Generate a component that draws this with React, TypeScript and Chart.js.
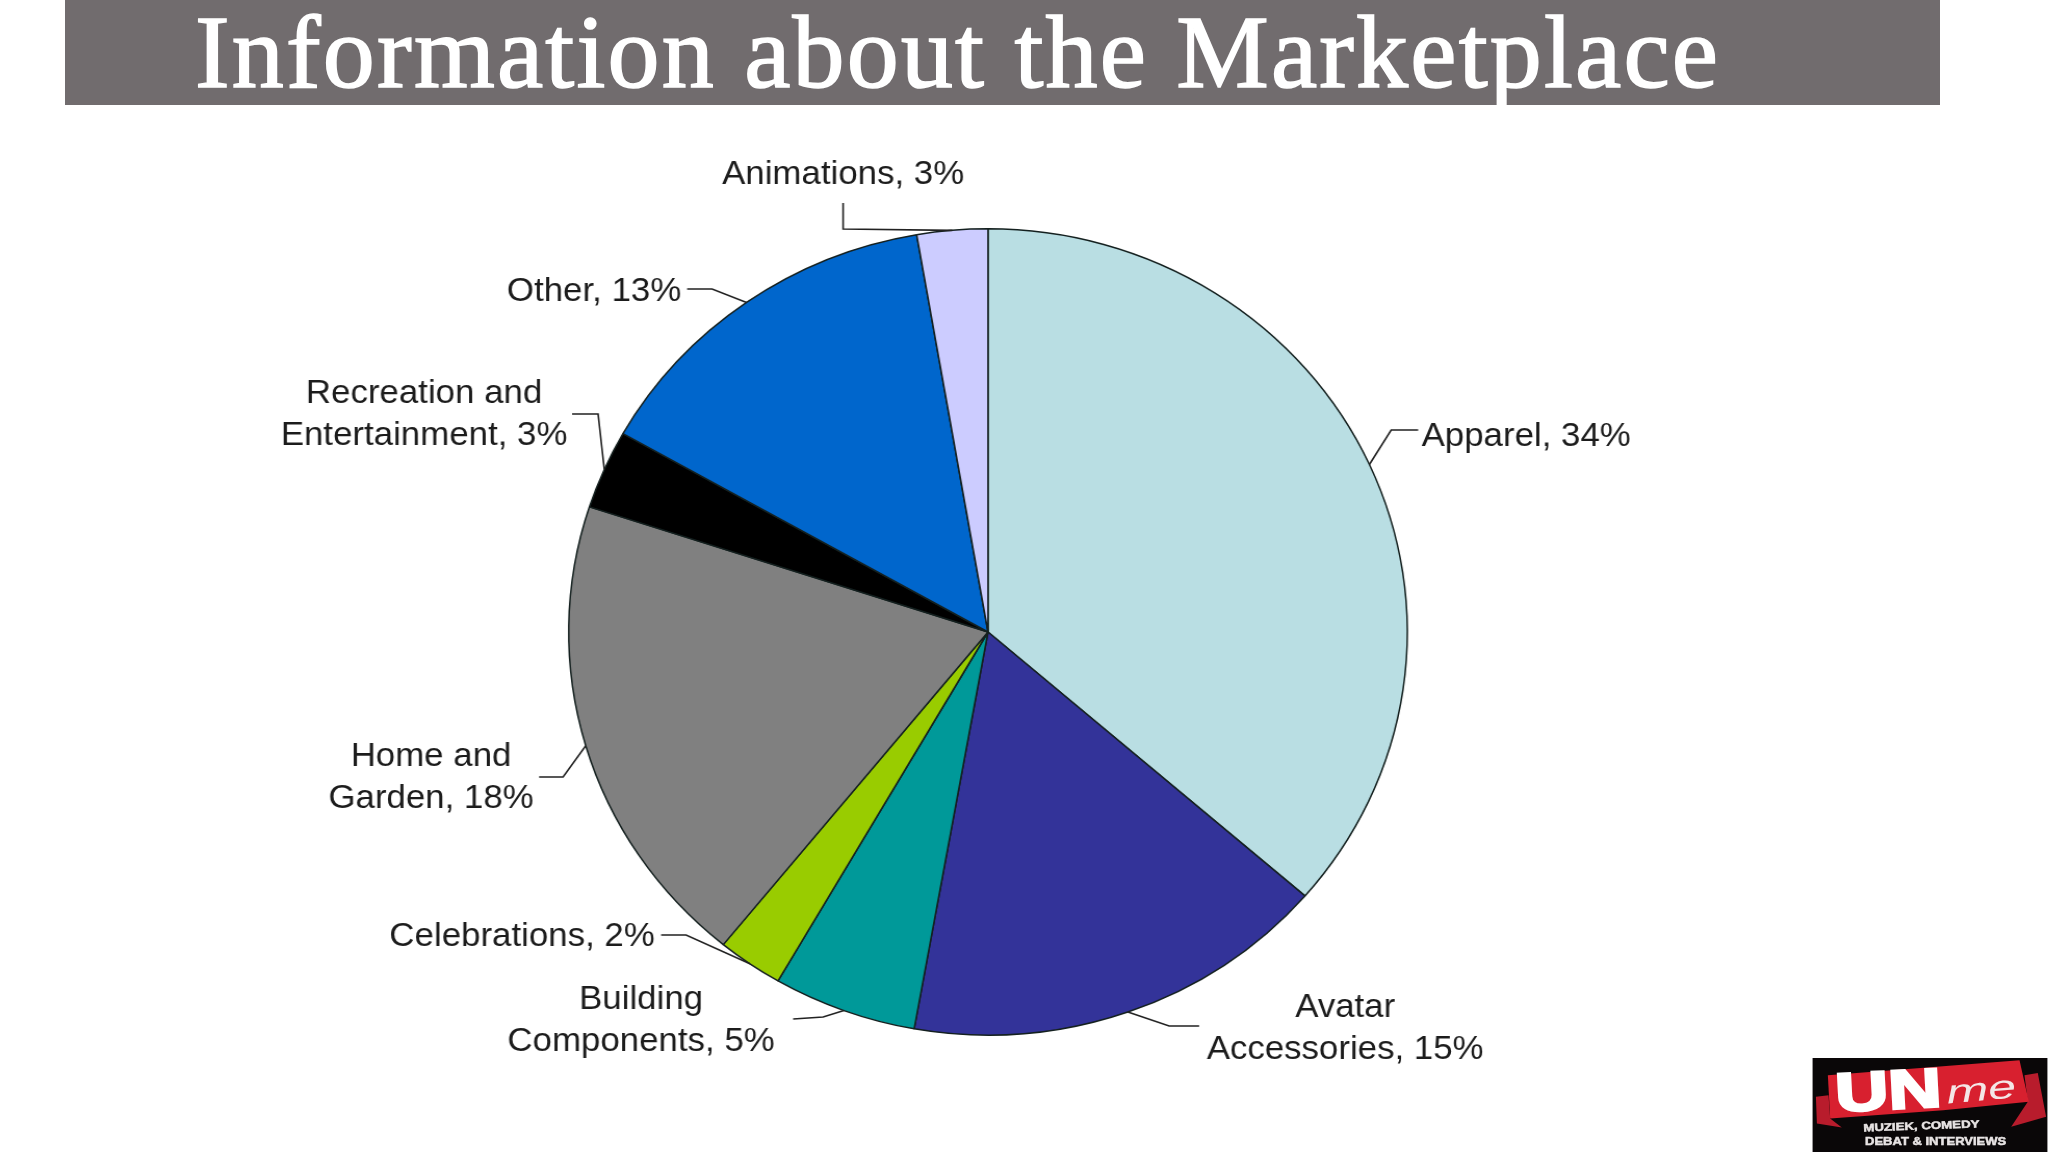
import React, { useEffect, useRef } from 'react';
import { Chart, registerables } from 'chart.js';

Chart.register(...registerables);

// Slices, clockwise from 12 o'clock. The source chart only adds up to about 93%.
const categories = [
  ['Apparel'],
  ['Avatar', 'Accessories'],
  ['Building', 'Components'],
  ['Celebrations'],
  ['Home and', 'Garden'],
  ['Recreation and', 'Entertainment'],
  ['Other'],
  ['Animations']
];
const shares = [33.8, 15.3, 5.14, 2.35, 17.8, 2.94, 13.1, 2.53];
const sliceColors = ['#b9dee3', '#333399', '#009999', '#99cc00', '#808080', '#000000', '#0066cc', '#ccccff'];

// The pie in the picture is a little wider than tall, so the canvas gets stretched
const STRETCH = 1.04;
const PAGE_W = 2048;
const PAGE_H = 1152;
const PIE_CX = 988;
const PIE_CY = 632;
const PIE_R = 404;

// Label placement in page pixels: x centre, y of first line, leader points from the text to the slice
const labelLayout = [
  { x: 1526, y: 437, leader: [[1418, 430], [1391, 430]] },
  { x: 1345, y: 1008, leader: [[1199, 1026], [1169, 1026]] },
  { x: 641, y: 1000, leader: [[793, 1019], [823, 1017]] },
  { x: 522, y: 937, leader: [[661, 935], [686, 935]] },
  { x: 431, y: 757, leader: [[539, 777], [563, 777]] },
  { x: 424, y: 394, leader: [[572, 414], [598, 414]] },
  { x: 594, y: 292, leader: [[687, 289], [712, 289]] },
  { x: 843, y: 175, leader: [[843, 203], [843, 229]] }
];

const LINE_GAP = 42;

const calloutPlugin = {
  id: 'callouts',
  afterDatasetsDraw(chart: Chart) {
    const ctx = chart.ctx;
    const arcs = chart.getDatasetMeta(0).data as any[];
    ctx.save();
    arcs.forEach((arc, i) => {
      const { x, y, startAngle, endAngle, outerRadius } = arc.getProps(['x', 'y', 'startAngle', 'endAngle', 'outerRadius'], true);
      const mid = (startAngle + endAngle) / 2;
      const place = labelLayout[i];

      ctx.beginPath();
      place.leader.forEach(([px, py], k) => {
        if (k === 0) ctx.moveTo(px / STRETCH, py);
        else ctx.lineTo(px / STRETCH, py);
      });
      ctx.lineTo(x + outerRadius * Math.cos(mid), y + outerRadius * Math.sin(mid));
      ctx.strokeStyle = '#222222';
      ctx.lineWidth = 1.6;
      ctx.stroke();

      ctx.fillStyle = '#1c1c1c';
      ctx.font = '33.5px "Liberation Sans"';
      ctx.textAlign = 'center';
      ctx.textBaseline = 'middle';
      const lines = [...categories[i]];
      lines[lines.length - 1] += `, ${Math.round(shares[i])}%`;
      lines.forEach((line, k) => {
        ctx.fillText(line, place.x / STRETCH, place.y + k * LINE_GAP);
      });
    });
    ctx.restore();
  }
};

const MarketplacePie: React.FC = () => {
  const canvasRef = useRef<HTMLCanvasElement | null>(null);

  useEffect(() => {
    if (!canvasRef.current) return;
    const innerW = PAGE_W / STRETCH;
    const centerX = PIE_CX / STRETCH;

    const chart = new Chart(canvasRef.current, {
      type: 'pie',
      data: {
        labels: categories.map(c => c.join(' ')),
        datasets: [
          {
            data: shares,
            backgroundColor: sliceColors,
            borderColor: '#14201f',
            borderWidth: 1.5
          }
        ]
      },
      options: {
        responsive: false,
        animation: false,
        devicePixelRatio: 1,
        layout: {
          padding: {
            left: centerX - PIE_R,
            right: innerW - centerX - PIE_R,
            top: PIE_CY - PIE_R,
            bottom: PAGE_H - PIE_CY - PIE_R
          }
        },
        plugins: {
          legend: { display: false },
          title: { display: false },
          tooltip: { enabled: false }
        }
      },
      plugins: [calloutPlugin]
    });

    return () => {
      chart.destroy();
    };
  }, []);

  return (
    <canvas
      ref={canvasRef}
      width={PAGE_W / STRETCH}
      height={PAGE_H}
      style={{ position: 'absolute', left: 0, top: 0, width: PAGE_W, height: PAGE_H }}
    />
  );
};

// Corner badge, traced by eye
const Badge: React.FC = () => (
  <svg
    viewBox="97 53 707 283"
    style={{ position: 'absolute', left: 1812, top: 1058, width: 236, height: 94 }}
  >
    <rect x="97" y="53" width="707" height="283" fill="#0a0708" />
    <polygon points="107,170 145,165 150,235 185,262 110,250" fill="#b81c2c" />
    <polygon points="735,105 775,98 800,230 695,260 745,185" fill="#b81c2c" />
    <polygon points="143,105 720,60 748,185 490,210 150,235" fill="#d8202f" />
    <text x="168" y="215" fontFamily="Liberation Sans" fontWeight="bold" fontSize="165" fill="#fff" stroke="#fff" strokeWidth="8" textLength="320" lengthAdjust="spacingAndGlyphs" transform="rotate(-3 168 215)">UN</text>
    <text x="503" y="190" fontFamily="Liberation Sans" fontStyle="italic" fontSize="100" fill="#f4e6e6" textLength="210" lengthAdjust="spacingAndGlyphs" transform="rotate(-5 503 190)">me</text>
    <text x="250" y="274" fontFamily="Liberation Sans" fontWeight="bold" fontSize="32" fill="#e8e4e4" stroke="#e8e4e4" strokeWidth="1.5" textLength="350" lengthAdjust="spacingAndGlyphs" transform="rotate(-2 250 274)">MUZIEK, COMEDY</text>
    <text x="255" y="314" fontFamily="Liberation Sans" fontWeight="bold" fontSize="32" fill="#e8e4e4" stroke="#e8e4e4" strokeWidth="1.5" textLength="425" lengthAdjust="spacingAndGlyphs">DEBAT &amp; INTERVIEWS</text>
  </svg>
);

const App: React.FC = () => (
  <div style={{ position: 'absolute', left: 0, top: 0, width: PAGE_W, height: PAGE_H, overflow: 'hidden', background: '#ffffff' }}>
    <div style={{ position: 'absolute', left: 65, top: 0, width: 1875, height: 105, background: '#716c6e' }} />
    <MarketplacePie />
    <div
      style={{
        position: 'absolute',
        left: 195,
        top: 0,
        fontFamily: '"Liberation Serif"',
        fontSize: 104,
        lineHeight: '104px',
        letterSpacing: 2.2,
        color: '#ffffff',
        whiteSpace: 'nowrap',
        WebkitTextStroke: '1.6px #ffffff'
      }}
    >
      Information about the Marketplace
    </div>
    <Badge />
  </div>
);

export default App;
